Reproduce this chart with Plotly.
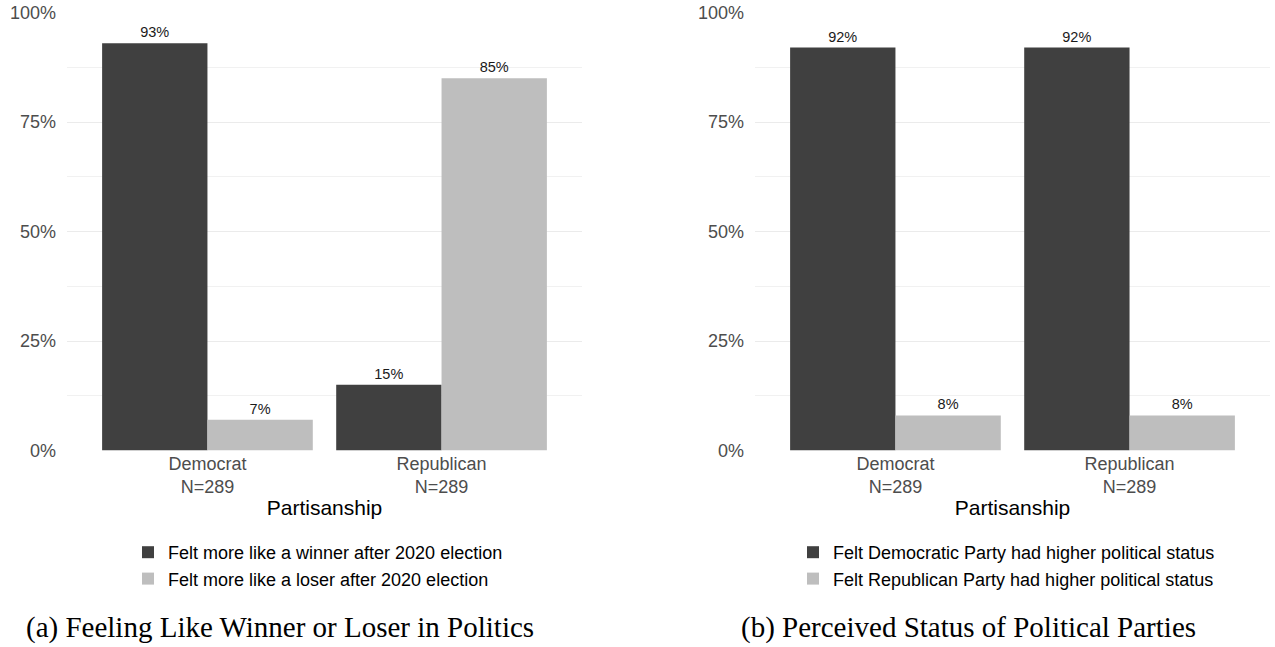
import plotly.graph_objects as go

# ---- data ----
parties = ["Democrat", "Republican"]
n_sizes = [289, 289]
winner_share = [0.93, 0.15]
loser_share = [0.07, 0.85]
dem_status_share = [0.92, 0.92]
rep_status_share = [0.08, 0.08]
y_ticks = [0, 0.25, 0.5, 0.75, 1.0]
y_tick_labels = ["0%", "25%", "50%", "75%", "100%"]
y_minor_ticks = [0.125, 0.375, 0.625, 0.875]
legend_a = ["Felt more like a winner after 2020 election",
            "Felt more like a loser after 2020 election"]
legend_b = ["Felt Democratic Party had higher political status",
            "Felt Republican Party had higher political status"]
captions = ["(a) Feeling Like Winner or Loser in Politics",
            "(b) Perceived Status of Political Parties"]
x_title = "Partisanship"

categories = [f"{p}<br>N={n}" for p, n in zip(parties, n_sizes)]

DARK = "#404040"
LIGHT = "#BEBEBE"
SANS = "Liberation Sans, Arial, sans-serif"
SERIF = "Liberation Serif, Times New Roman, serif"
W, H = 1275, 647

def px_x(v):
    return v / W

def px_y(v):
    return 1 - v / H

fig = go.Figure()

def add_bar(x, y, name, color, xa, ya, leg):
    fig.add_trace(go.Bar(
        x=x, y=y, name=name, marker=dict(color=color, line=dict(width=0)),
        xaxis=xa, yaxis=ya, legend=leg,
        texttemplate="%{y:.0%}", textposition="outside",
        textfont=dict(size=14.5, color="#1A1A1A", family=SANS),
        cliponaxis=False, hoverinfo="skip",
    ))

add_bar(categories, winner_share, legend_a[0], DARK, "x", "y", "legend")
add_bar(categories, loser_share, legend_a[1], LIGHT, "x", "y", "legend")
add_bar(categories, dem_status_share, legend_b[0], DARK, "x2", "y2", "legend2")
add_bar(categories, rep_status_share, legend_b[1], LIGHT, "x2", "y2", "legend2")

ydom = [px_y(450.5), px_y(12.5)]
xdom1 = [px_x(67), px_x(582)]
xdom2 = [px_x(755), px_x(1270)]

xaxis_common = dict(
    type="category", range=[-0.6, 1.6], showgrid=False, zeroline=False,
    showline=False, ticks="", automargin=False,
    tickfont=dict(size=18, color="#4D4D4D", family=SANS),
    ticklabelstandoff=0,
    title=dict(text=x_title, font=dict(size=21, color="black", family=SANS), standoff=4),
)
yaxis_common = dict(
    range=[0, 1], tickvals=y_ticks, ticktext=y_tick_labels,
    showgrid=True, gridcolor="#EBEBEB", gridwidth=1.2, zeroline=False,
    showline=False, ticks="", ticklabelstandoff=10, automargin=False,
    tickfont=dict(size=18, color="#4D4D4D", family=SANS),
    minor=dict(tickvals=y_minor_ticks, showgrid=True,
               gridcolor="#F1F1F1", gridwidth=0.8),
)

legend_common = dict(
    xanchor="center", yanchor="top",
    font=dict(size=18, color="black", family=SANS),
    bgcolor="rgba(0,0,0,0)", tracegroupgap=0, traceorder="normal",
)

fig.update_layout(
    width=W, height=H,
    margin=dict(l=0, r=0, t=0, b=0, autoexpand=False),
    paper_bgcolor="white", plot_bgcolor="white",
    barmode="group", bargap=0.1, bargroupgap=0,
    font=dict(family=SANS),
    xaxis=dict(domain=xdom1, anchor="y", **xaxis_common),
    yaxis=dict(domain=ydom, anchor="x", **yaxis_common),
    xaxis2=dict(domain=xdom2, anchor="y2", **xaxis_common),
    yaxis2=dict(domain=ydom, anchor="x2", **yaxis_common),
    legend=dict(x=px_x(318), y=px_y(534), **legend_common),
    legend2=dict(x=px_x(1006.5), y=px_y(534), **legend_common),
    showlegend=True,
    annotations=[
        dict(text=captions[0], x=px_x(280), y=px_y(627), xref="paper", yref="paper",
             xanchor="center", yanchor="middle", showarrow=False,
             font=dict(size=29, color="black", family=SERIF)),
        dict(text=captions[1], x=px_x(968.5), y=px_y(627), xref="paper", yref="paper",
             xanchor="center", yanchor="middle", showarrow=False,
             font=dict(size=29, color="black", family=SERIF)),
    ],
)

fig.write_html("out.html")
